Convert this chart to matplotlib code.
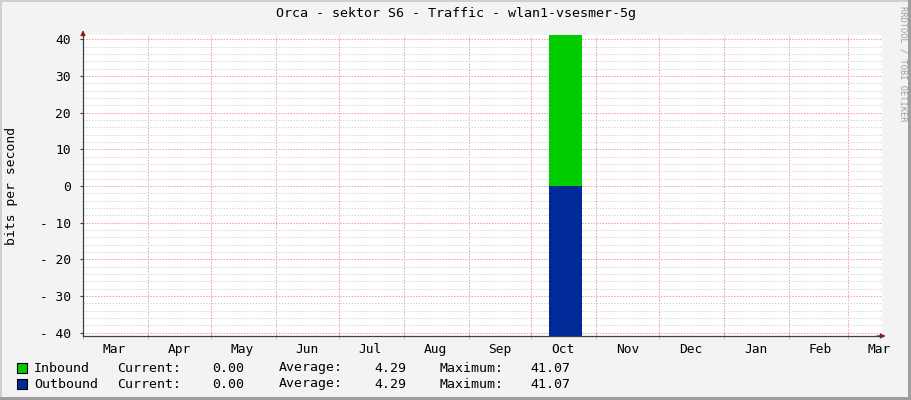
import numpy as np
import pandas as pd
import matplotlib
matplotlib.use("Agg")
import matplotlib.pyplot as plt
import matplotlib.dates as mdates
from matplotlib.patches import Rectangle

# data
sample_times = pd.to_datetime(["2024-10-09 14:00", "2024-10-24 22:00"])
inbound_bps = np.array([41.07, 41.07])
outbound_bps = np.array([41.07, 41.07])

series_names = ["Inbound", "Outbound"]
series_colors = ["#00CC00", "#002A97"]
stat_labels = ["Current:", "Average:", "Maximum:"]
inbound_stats = [0.00, 4.29, 41.07]
outbound_stats = [0.00, 4.29, 41.07]

x_start = pd.Timestamp("2024-03-01 00:00")
x_end = pd.Timestamp("2025-03-17 08:00")
y_min, y_max = -40.9, 41.2
y_ticks = [40, 30, 20, 10, 0, -10, -20, -30, -40]
y_ticklabels = ["40", "30", "20", "10", "0", "- 10", "- 20", "- 30", "- 40"]

W, H = 911, 400
mono = "DejaVu Sans Mono"
plt.rcParams["font.family"] = mono

fig = plt.figure(figsize=(W / 100, H / 100), dpi=100, facecolor="#F3F3F3")
# plot area in pixels: left 83, right 882, top 35, bottom 336
ax = fig.add_axes([83 / W, 1 - 336 / H, (882 - 83) / W, (336 - 35) / H])
ax.set_facecolor("white")

ax.fill_between(sample_times, 0, inbound_bps, color=series_colors[0], lw=0, zorder=3)
ax.fill_between(sample_times, 0, -outbound_bps, color=series_colors[1], lw=0, zorder=3)

ax.set_xlim(x_start, x_end)
ax.set_ylim(y_min, y_max)

# grid
red = "#F2A0A0"
gray = "#D8D8D8"
dots = (0, (1.4, 1.4))
ax.xaxis.set_major_locator(mdates.MonthLocator(bymonthday=1))
ax.xaxis.set_minor_locator(mdates.MonthLocator(bymonthday=16))
ax.xaxis.set_major_formatter(plt.NullFormatter())
ax.xaxis.set_minor_formatter(mdates.DateFormatter("%b"))
ax.set_yticks(y_ticks)
ax.set_yticklabels(y_ticklabels)
ax.set_yticks(np.arange(-40, 41, 2), minor=True)

ax.grid(True, which="major", axis="x", color=red, lw=0.75, ls=dots, zorder=1)
ax.grid(True, which="major", axis="y", color=red, lw=0.75, ls=dots, zorder=1)
ax.grid(True, which="minor", axis="y", color=gray, lw=0.75, ls=dots, zorder=0)

ax.tick_params(axis="x", which="major", length=4, color=red, direction="inout", width=0.7)
ax.tick_params(axis="x", which="minor", length=0, pad=5, labelsize=9.3, colors="#000000")
ax.tick_params(axis="y", which="major", length=2, color="#404040", width=0.8, pad=7, labelsize=9.3)
ax.tick_params(axis="y", which="minor", length=0)

for s in ["top", "right"]:
    ax.spines[s].set_visible(False)
for s in ["left", "bottom"]:
    ax.spines[s].set_color("#404040")
    ax.spines[s].set_linewidth(0.9)
    ax.spines[s].set_zorder(5)

# axis arrows
arrow_col = "#8B1A1A"
ax.annotate("", xy=(1.008, 0), xytext=(0.99, 0), xycoords="axes fraction",
            arrowprops=dict(arrowstyle="-|>", color=arrow_col, lw=0.9, mutation_scale=7),
            annotation_clip=False)
ax.annotate("", xy=(0, 1.025), xytext=(0, 0.99), xycoords="axes fraction",
            arrowprops=dict(arrowstyle="-|>", color=arrow_col, lw=0.9, mutation_scale=7),
            annotation_clip=False)

fig.text(12 / W, 1 - 186 / H, "bits per second", rotation=90,
         ha="center", va="center", fontsize=9.4)

fig.text(0.5, 1 - 14 / H, "Orca - sektor S6 - Traffic - wlan1-vsesmer-5g",
         ha="center", va="center", fontsize=9.6)

fig.text(903 / W, 1 - 6 / H, "RRDTOOL / TOBI OETIKER", rotation=270,
         ha="center", va="top", fontsize=6.2, color="#A0A0A0")

# legend rows
rows = [(series_names[0], series_colors[0], inbound_stats, 368),
        (series_names[1], series_colors[1], outbound_stats, 384)]
for name, col, stats, yc in rows:
    fy = 1 - yc / H
    fig.patches.append(Rectangle((17 / W, 1 - (yc + 5) / H), 10 / W, 10 / H,
                                 transform=fig.transFigure, facecolor=col,
                                 edgecolor="black", lw=0.8))
    fig.text(34 / W, fy, name, ha="left", va="center", fontsize=9.5)
    for lab, lx, val, vx in zip(stat_labels, [117, 279, 440], stats, [244, 406, 570]):
        fig.text(lx / W, fy, lab, ha="left", va="center", fontsize=9.5)
        fig.text(vx / W, fy, f"{val:.2f}", ha="right", va="center", fontsize=9.5)

# frame around the image
fig.patches.append(Rectangle((0, 1 - 2 / H), 1, 2 / H, transform=fig.transFigure,
                             facecolor="#CFCFCF", lw=0))
fig.patches.append(Rectangle((0, 0), 2 / W, 1, transform=fig.transFigure,
                             facecolor="#CFCFCF", lw=0))
fig.patches.append(Rectangle((1 - 3 / W, 0), 3 / W, 1, transform=fig.transFigure,
                             facecolor="#9E9E9E", lw=0))
fig.patches.append(Rectangle((0, 0), 1, 3 / H, transform=fig.transFigure,
                             facecolor="#9E9E9E", lw=0))

fig.savefig("out.png", dpi=100, facecolor=fig.get_facecolor())
